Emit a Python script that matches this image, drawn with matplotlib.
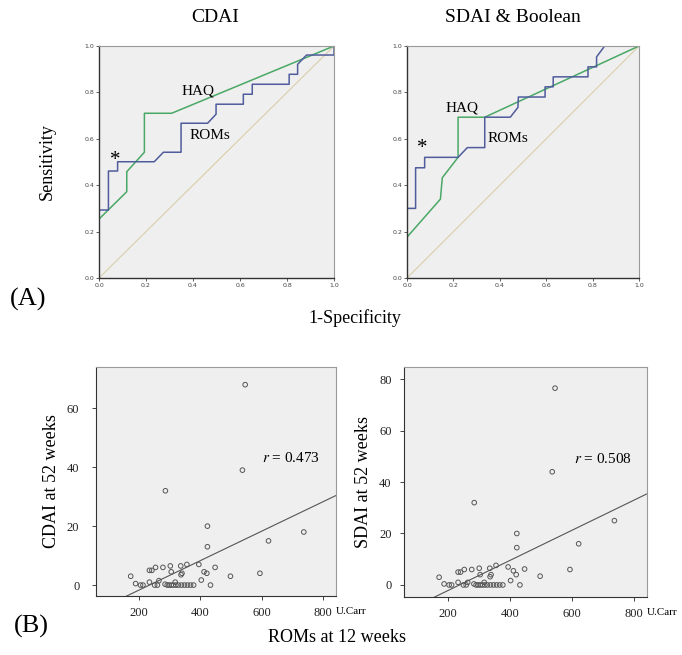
import matplotlib
matplotlib.use('Agg')
import matplotlib.pyplot as plt
import numpy as np

SERIF = 'Liberation Serif'

# ROC curves (1-specificity, sensitivity)
cdai_roms_fpr = [0, 0, 0.04, 0.04, 0.079, 0.079, 0.235, 0.274, 0.349, 0.349, 0.462, 0.498,
                 0.498, 0.614, 0.614, 0.652, 0.652, 0.809, 0.809, 0.845, 0.845, 0.883, 1.0, 1.0]
cdai_roms_tpr = [0, 0.293, 0.293, 0.461, 0.461, 0.501, 0.501, 0.542, 0.542, 0.667, 0.667, 0.706,
                 0.749, 0.749, 0.792, 0.792, 0.835, 0.835, 0.878, 0.878, 0.921, 0.961, 0.961, 1.0]
cdai_haq_fpr = [0, 0, 0.118, 0.118, 0.193, 0.193, 0.309, 1.0]
cdai_haq_tpr = [0, 0.254, 0.372, 0.458, 0.542, 0.71, 0.71, 1.0]

sdai_roms_fpr = [0, 0, 0.037, 0.037, 0.076, 0.076, 0.22, 0.26, 0.335, 0.335, 0.445, 0.478,
                 0.48, 0.595, 0.595, 0.63, 0.63, 0.78, 0.78, 0.817, 0.817, 0.852, 1.0]
sdai_roms_tpr = [0, 0.30, 0.30, 0.475, 0.475, 0.52, 0.52, 0.562, 0.562, 0.693, 0.693, 0.735,
                 0.78, 0.78, 0.824, 0.824, 0.867, 0.867, 0.91, 0.91, 0.953, 1.0, 1.0]
sdai_haq_fpr = [0, 0, 0.144, 0.152, 0.22, 0.22, 0.335, 1.0]
sdai_haq_tpr = [0, 0.176, 0.34, 0.432, 0.52, 0.693, 0.693, 1.0]

# scatter: ROMs at 12 weeks vs CDAI / SDAI at 52 weeks
roms = [173, 189, 205, 213, 234, 242, 234, 254, 251, 260, 265, 278, 286, 285, 302, 305,
        318, 336, 337, 340, 356, 395, 403, 412, 421, 423, 423, 433, 448, 498, 537, 546,
        594, 622, 737,
        292, 298, 305, 312, 320, 328, 338, 348, 358, 368, 378]
cdai = [3.0, 0.5, 0, 0, 5, 5, 1, 6, 0, 0, 1.5, 6, 32, 0.3, 6.5, 4.5,
        1, 6.5, 3.5, 4, 7, 7, 1.7, 4.5, 4, 20, 13, 0, 6, 3, 39, 68,
        4, 15, 18,
        0, 0, 0, 0, 0, 0, 0, 0, 0, 0, 0]
sdai = [3.0, 0.4, 0, 0, 5, 5, 1, 6, 0, 0, 1, 6, 32, 0.4, 6.5, 4,
        1, 6.5, 3.2, 4, 7.6, 7, 1.7, 5.5, 4, 20, 14.5, 0, 6.2, 3.4, 44, 76.5,
        6, 16, 25,
        0, 0, 0, 0, 0, 0, 0, 0, 0, 0, 0]
fit_cdai = (0.050, -11.7)
fit_sdai = (0.0587, -14.0)
r_cdai = 0.473
r_sdai = 0.508

BLUE = '#505c9c'
GREEN = '#4aa866'
DIAG = '#d8cfaa'
BG = '#efefef'

fig = plt.figure(figsize=(6.82, 6.55), dpi=100)


def roc_axes(rect, roms_x, roms_y, haq_x, haq_y, haq_pos, roms_pos, star_pos):
    ax = fig.add_axes(rect)
    ax.set_facecolor(BG)
    ax.plot([0, 1], [0, 1], color=DIAG, lw=0.8)
    ax.plot(haq_x, haq_y, color=GREEN, lw=1.1)
    ax.plot(roms_x, roms_y, color=BLUE, lw=1.1)
    ax.set_xlim(0, 1)
    ax.set_ylim(0, 1)
    ticks = np.arange(0, 1.01, 0.2)
    ax.set_xticks(ticks)
    ax.set_yticks(ticks)
    ax.set_xticklabels(['%.1f' % t for t in ticks])
    ax.set_yticklabels(['%.1f' % t for t in ticks])
    ax.tick_params(labelsize=4.5, length=2.5, width=0.6, pad=1, colors='#444444')
    for s in ['top', 'right']:
        ax.spines[s].set_color('#9a9a9a')
    for s in ['left', 'bottom']:
        ax.spines[s].set_color('#333333')
        ax.spines[s].set_linewidth(1.0)
    ax.text(*haq_pos, 'HAQ', family=SERIF, fontsize=11, va='center')
    ax.text(*roms_pos, 'ROMs', family=SERIF, fontsize=11, va='center')
    ax.text(*star_pos, '*', family=SERIF, fontsize=15, va='center', ha='center')
    return ax


ax1 = roc_axes([0.1452, 0.5756, 0.3446, 0.3542], cdai_roms_fpr, cdai_roms_tpr,
               cdai_haq_fpr, cdai_haq_tpr, (0.353, 0.806), (0.387, 0.616), (0.068, 0.505))
ax2 = roc_axes([0.5968, 0.5756, 0.3402, 0.3542], sdai_roms_fpr, sdai_roms_tpr,
               sdai_haq_fpr, sdai_haq_tpr, (0.164, 0.733), (0.345, 0.60), (0.065, 0.56))


def scatter_axes(rect, yvals, fit, r, ylim, yticks, ylabel, rpos, ypad):
    ax = fig.add_axes(rect)
    ax.set_facecolor(BG)
    ax.scatter(roms, yvals, s=11, facecolors='none', edgecolors='#555555', linewidths=0.7, zorder=3)
    xl = (60, 842)
    xs = np.array(xl)
    ax.plot(xs, fit[0] * xs + fit[1], color='#555555', lw=0.8)
    ax.set_xlim(*xl)
    ax.set_ylim(*ylim)
    ax.set_xticks([200, 400, 600, 800])
    ax.set_yticks(yticks)
    ax.tick_params(labelsize=9, length=3, width=0.6, colors='#222222')
    ax.tick_params(axis='y', pad=ypad)
    ax.tick_params(axis='x', pad=5)
    for lab in ax.get_xticklabels() + ax.get_yticklabels():
        lab.set_family(SERIF)
    for s in ['top', 'right']:
        ax.spines[s].set_color('#9a9a9a')
    for s in ['left', 'bottom']:
        ax.spines[s].set_color('#333333')
    ax.set_ylabel(ylabel, family=SERIF, fontsize=13, labelpad=5)
    ax.text(rpos[0], rpos[1], r'$r$ = %.3f' % r, family=SERIF, fontsize=11,
            va='center', math_fontfamily='stix')
    ax.text(1.0, -0.068, 'U.Carr', transform=ax.transAxes, family=SERIF, fontsize=8,
            va='center')
    return ax


ax3 = scatter_axes([0.1408, 0.0901, 0.3519, 0.3496], cdai, fit_cdai, r_cdai,
                   (-3.7, 74), [0, 20, 40, 60], 'CDAI at 52 weeks', (600, 43), 9)
ax4 = scatter_axes([0.5924, 0.0885, 0.3563, 0.3511], sdai, fit_sdai, r_sdai,
                   (-4.7, 84.7), [0, 20, 40, 60, 80], 'SDAI at 52 weeks', (607, 49), 6)

fig.text(215 / 682, 1 - 18 / 655, 'CDAI', family=SERIF, fontsize=14, ha='center', va='center')
fig.text(513 / 682, 1 - 18 / 655, 'SDAI & Boolean', family=SERIF, fontsize=14, ha='center', va='center')
fig.text(47 / 682, 1 - 162 / 655, 'Sensitivity', family=SERIF, fontsize=13, rotation=90,
         ha='center', va='center')
fig.text(355 / 682, 1 - 318 / 655, '1-Specificity', family=SERIF, fontsize=13, ha='center', va='center')
fig.text(28 / 682, 1 - 299 / 655, '(A)', family=SERIF, fontsize=19, ha='center', va='center')
fig.text(31 / 682, 1 - 626 / 655, '(B)', family=SERIF, fontsize=19, ha='center', va='center')
fig.text(337 / 682, 1 - 637 / 655, 'ROMs at 12 weeks', family=SERIF, fontsize=13, ha='center', va='center')

fig.savefig('out.png', dpi=100)
